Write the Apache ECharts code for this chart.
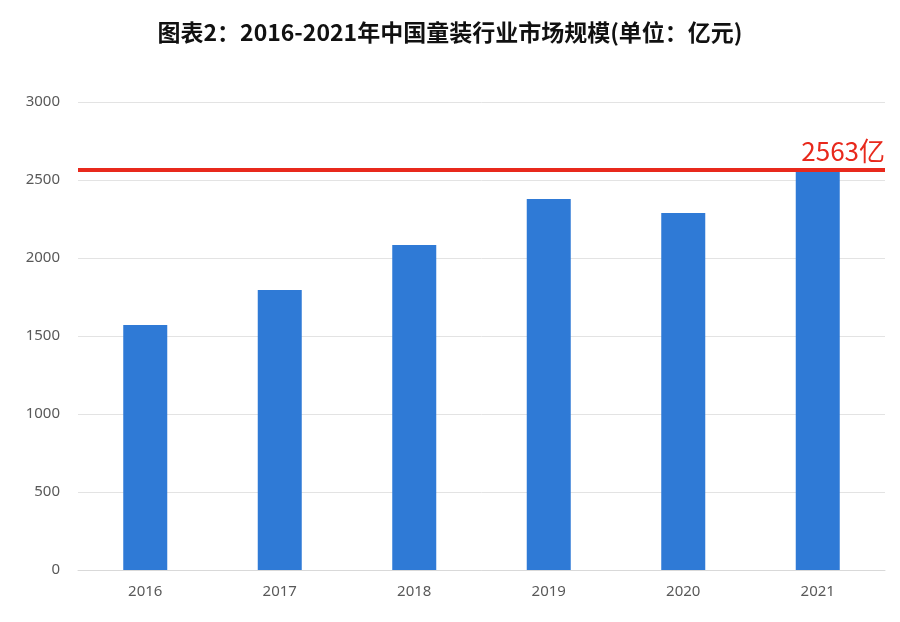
<!DOCTYPE html>
<html>
<head>
<meta charset="utf-8">
<script src="https://cdn.jsdelivr.net/npm/echarts@6/dist/echarts.min.js"></script>
<style>html,body{margin:0;padding:0;background:#fff;}#chart{width:900px;height:622px;}</style>
</head>
<body>
<div id="chart"></div>
<script>
const years = ['2016', '2017', '2018', '2019', '2020', '2021'];
const marketSize = [1570, 1795, 2083, 2378, 2288, 2563];
const markValue = 2563;
const markLabel = '2563亿';

const chart = echarts.init(document.getElementById('chart'));
chart.setOption({
  animation: false,
  title: {
    text: '图表2：2016-2021年中国童装行业市场规模(单位：亿元)',
    left: 'center', top: 16,
    textStyle: { fontFamily: 'Noto Sans CJK SC', fontSize: 23, fontWeight: 'bold', color: '#111' }
  },
  grid: { left: 78, right: 15, top: 102, bottom: 52 },
  xAxis: {
    type: 'category', data: years,
    axisLine: { lineStyle: { color: '#d9d9d9' } },
    axisTick: { show: false },
    axisLabel: { color: '#595959', fontSize: 15, margin: 14, fontFamily: 'Noto Sans' }
  },
  yAxis: {
    type: 'value', min: 0, max: 3000, interval: 500,
    axisLine: { show: false }, axisTick: { show: false },
    splitLine: { lineStyle: { color: '#e3e3e3' } },
    axisLabel: { color: '#595959', fontSize: 15, margin: 18, fontFamily: 'Noto Sans', formatter: v => String(v) }
  },
  series: [{
    type: 'bar', data: marketSize, barWidth: 44,
    itemStyle: { color: '#2f7ad6' },
    markLine: {
      symbol: 'none', silent: true,
      lineStyle: { color: '#e8291c', width: 4, type: 'solid' },
      label: { show: true, position: 'insideEndTop', formatter: markLabel, color: '#e8291c', fontSize: 26, distance: [0, 6], fontFamily: 'Noto Sans CJK SC' },
      data: [{ yAxis: markValue }]
    }
  }]
});
</script>
</body>
</html>
